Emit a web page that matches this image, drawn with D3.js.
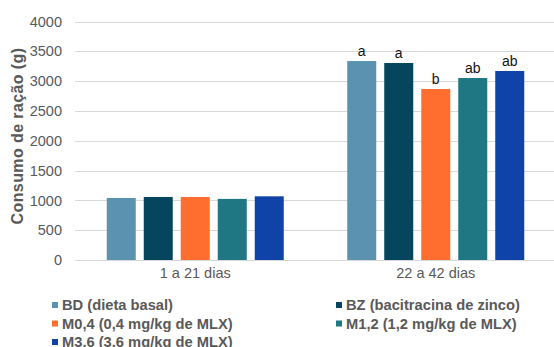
<!DOCTYPE html>
<html>
<head>
<meta charset="utf-8">
<script src="https://cdn.jsdelivr.net/npm/d3@7"></script>
<style>
  html, body { margin: 0; padding: 0; background: #fff; }
  svg { display: block; font-family: "Liberation Sans", Arial, sans-serif; }
</style>
</head>
<body>
<svg id="chart" width="554" height="347"></svg>
<script>
// Periods (x categories)
const periods = ["1 a 21 dias", "22 a 42 dias"];
// Treatments (series)
const treatments = ["BD", "BZ", "M0,4", "M1,2", "M3.6"];
const legendLabels = [
  "BD (dieta basal)",
  "BZ (bacitracina de zinco)",
  "M0,4 (0,4 mg/kg de MLX)",
  "M1,2 (1,2 mg/kg de MLX)",
  "M3.6 (3.6 mg/kg de MLX)"
];
const colors = ["#5a92b0", "#05465e", "#ff6d2f", "#1f7784", "#1043a8"];
// Feed intake (g) per treatment, one array per period
const intake1to21 = [1040, 1057, 1057, 1025, 1068];
const intake22to42 = [3337, 3304, 2868, 3052, 3170];
// Significance letters (22 a 42 dias)
const letters22to42 = ["a", "a", "b", "ab", "ab"];
const yTicks = [0, 500, 1000, 1500, 2000, 2500, 3000, 3500, 4000];

const svg = d3.select("#chart");
const plotL = 75, plotR = 556, plotT = 21.5, plotB = 260;

const x0 = d3.scaleBand().domain(periods).range([plotL, plotR]).paddingInner(0).paddingOuter(0);
const groupW = x0.bandwidth() * 0.736;
const x1 = d3.scaleBand().domain(treatments)
  .range([0, groupW])
  .paddingInner(0.216).paddingOuter(0);
const y = d3.scaleLinear().domain([0, 4000]).range([plotB, plotT]);

// gridlines
svg.append("g").selectAll("line").data(yTicks).join("line")
  .attr("x1", plotL).attr("x2", plotR)
  .attr("y1", d => Math.round(y(d)) + 0.5).attr("y2", d => Math.round(y(d)) + 0.5)
  .attr("stroke", "#d9d9d9").attr("stroke-width", 1.2);

// y axis labels
const yAxis = d3.axisLeft(y).tickValues(yTicks).tickFormat(d3.format("d")).tickSize(0).tickPadding(0);
const ya = svg.append("g").attr("transform", `translate(62,0)`).call(yAxis);
ya.select(".domain").remove();
ya.selectAll("text").attr("fill", "#595959").style("font-size", "14.5px")
  .style("font-family", "'Liberation Sans', Arial, sans-serif");

// y title
svg.append("text")
  .attr("transform", `translate(23,136) rotate(-90)`)
  .attr("text-anchor", "middle")
  .attr("fill", "#595959").style("font-size", "16px").style("font-weight", "bold")
  .style("letter-spacing", "0.4px")
  .text("Consumo de ração (g)");

// x axis labels
const xAxis = d3.axisBottom(x0).tickSize(0).tickPadding(0);
const xa = svg.append("g").attr("transform", `translate(0,${plotB + 8})`).call(xAxis);
xa.select(".domain").remove();
xa.selectAll("text").attr("fill", "#595959").style("font-size", "14.5px")
  .style("font-family", "'Liberation Sans', Arial, sans-serif");

const series = [intake1to21, intake22to42];
const groups = svg.append("g").selectAll("g").data(periods).join("g")
  .attr("transform", (p) => `translate(${x0(p) + (x0.bandwidth() - groupW) / 2},0)`);

groups.selectAll("rect")
  .data((p, i) => treatments.map((t, j) => ({ t, v: series[i][j], c: colors[j] })))
  .join("rect")
  .attr("x", d => x1(d.t)).attr("width", x1.bandwidth())
  .attr("y", d => y(d.v)).attr("height", d => y(0) - y(d.v))
  .attr("fill", d => d.c);

// letters over the second period
groups.filter((p, i) => i === 1).selectAll("text.sig")
  .data(treatments.map((t, j) => ({ t, v: intake22to42[j], l: letters22to42[j] })))
  .join("text").attr("class", "sig")
  .attr("x", d => x1(d.t) + x1.bandwidth() / 2)
  .attr("y", d => y(d.v) - 5)
  .attr("text-anchor", "middle")
  .attr("fill", "#111").style("font-size", "14px")
  .text(d => d.l);

// legend
const legendPos = [[52, 305], [336, 305], [52, 323.5], [336, 323.5], [52, 342]];
const lg = svg.append("g").selectAll("g").data(legendLabels).join("g")
  .attr("transform", (d, i) => `translate(${legendPos[i][0]},${legendPos[i][1]})`);
lg.append("rect").attr("x", 0).attr("y", -3).attr("width", 6).attr("height", 6)
  .attr("fill", (d, i) => colors[i]);
lg.append("text").attr("x", 10).attr("y", 5)
  .attr("fill", "#595959").style("font-size", "14.7px").style("font-weight", "bold")
  .text(d => d);
</script>
</body>
</html>
